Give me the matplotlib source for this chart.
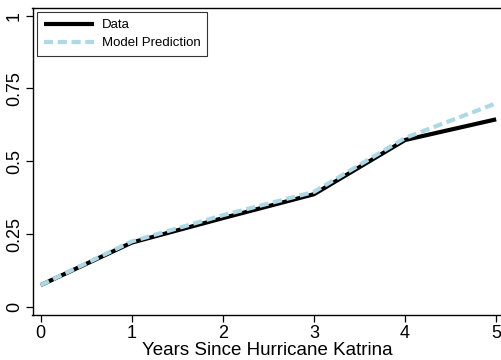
import matplotlib
matplotlib.use("Agg")
import matplotlib.pyplot as plt

years = [0, 1, 2, 3, 4, 5]
data_vals = [0.075, 0.221, 0.305, 0.387, 0.573, 0.644]
model_vals = [0.075, 0.225, 0.315, 0.395, 0.580, 0.699]
xticks = [0, 1, 2, 3, 4, 5]
yticks = [0, 0.25, 0.5, 0.75, 1]
ytick_labels = ["0", "0.25", "0.5", "0.75", "1"]

plt.rcParams['font.family'] = ['Liberation Sans', 'DejaVu Sans']

W, H = 501, 360
fig = plt.figure(figsize=(W / 100, H / 100), dpi=100)
left, right, top, bottom = 32.5, 503, 8, 315
ax = fig.add_axes([left / W, (H - bottom) / H, (right - left) / W, (bottom - top) / H])

ax.plot(years, data_vals, color='black', lw=3.0, solid_capstyle='butt', label='Data', zorder=2)
ax.plot(years, model_vals, color='#add8e6', lw=3.0, dashes=(2.2, 1.1), label='Model Prediction', zorder=3)

ax.set_xlim(-0.09, 5.075)
ax.set_ylim(-0.0275, 1.026)
ax.set_xticks(xticks)
ax.set_xticklabels([str(x) for x in xticks])
ax.set_yticks(yticks)
ax.set_yticklabels(ytick_labels, rotation=90, va='center')
ax.tick_params(axis='both', direction='out', length=5, width=0.9, labelsize=13, pad=2)
ax.spines['right'].set_visible(False)
for s in ['left', 'bottom', 'top']:
    ax.spines[s].set_linewidth(1.0)
ax.set_xlabel('Years Since Hurricane Katrina', fontsize=13.5, labelpad=0)

leg = ax.legend(loc='upper left', fontsize=9.5, frameon=True, fancybox=False,
                edgecolor='black', handlelength=3.8, borderaxespad=0.34,
                labelspacing=0.45, borderpad=0.5, handletextpad=0.6)
leg.get_frame().set_linewidth(0.8)

fig.savefig('out.png', dpi=100)
